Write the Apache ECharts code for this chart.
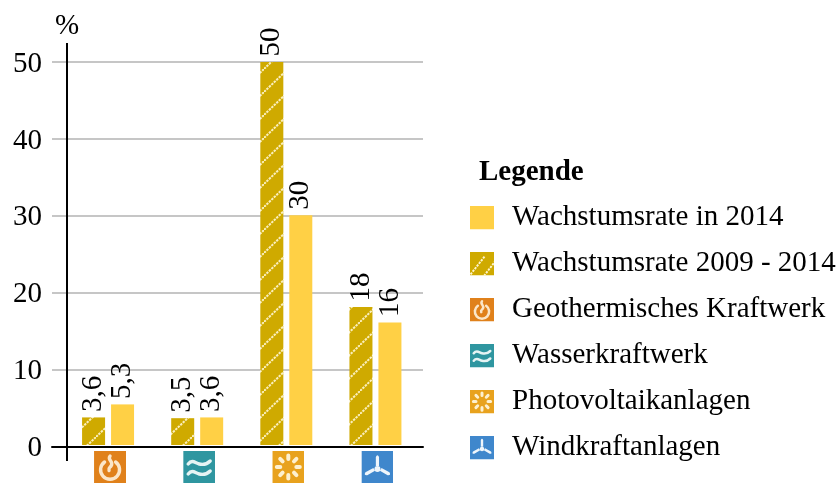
<!DOCTYPE html>
<html>
<head>
<meta charset="utf-8">
<style>
  html, body { margin: 0; background: #fff; }
  #chart { width: 838px; height: 483px; }
</style>
<script src="https://cdn.jsdelivr.net/npm/echarts@6/dist/echarts.min.js"></script>
</head>
<body>
<div id="chart"></div>
<script>
var categories = ["geo", "wasser", "photo", "wind"];
var rate0914 = [3.6, 3.5, 50, 18];
var rate2014 = [5.3, 3.6, 30, 16];
var yTicks = [0, 10, 20, 30, 40, 50];
var name2014 = "Wachstumsrate in 2014";
var name0914 = "Wachstumsrate 2009 - 2014";
var iconNames = ["Geothermisches Kraftwerk", "Wasserkraftwerk", "Photovoltaikanlagen", "Windkraftanlagen"];

var FONT = "Liberation Serif";
var YELLOW = "#ffd045";
var GOLD = "#cfaa00";

// white pictogram on a coloured square
var glyphs = {
  geo: { bg: "#e0811b", svg: '<g fill="none" stroke="#fbe6c8" stroke-width="3.4" stroke-linecap="round"><path d="M10.5 11a9.5 9.5 0 1 0 11 0"/><path d="M16 5c-3 3.5 3 5.5 1.5 9s-3.5 2-2.5 5.5"/></g>' },
  wasser: { bg: "#2f96a0", svg: '<g fill="none" stroke="#e6f4f4" stroke-width="3.4" stroke-linecap="round"><path d="M5 13c4-5 7-1 11 0s7 1 11-3"/><path d="M5 23c4-5 7-1 11 0s7 1 11-3"/></g>' },
  photo: { bg: "#e8a21e", svg: '<g stroke="#fdf0d0" stroke-width="4" stroke-linecap="round"><path d="M16 4.5v3.5M16 24v3.5M4.5 16H8M24 16h3.5M7.9 7.9l2.4 2.4M21.7 21.7l2.4 2.4M7.9 24.1l2.4-2.4M21.7 10.3l2.4-2.4"/></g>' },
  wind: { bg: "#3f87cc", svg: '<g fill="#eef5fb"><circle cx="16" cy="18" r="3"/><path d="M14.4 15V6q1.6-3.5 3.2 0v9zM13.6 19.8l-7.8 4.5q-3.8.4-1.8-3l7.9-4.4zM18.4 19.8l7.8 4.5q3.8.4 1.8-3l-7.9-4.4z"/></g>' }
};

function svgUri(inner) {
  return "data:image/svg+xml;charset=utf-8," + encodeURIComponent(
    '<svg xmlns="http://www.w3.org/2000/svg" width="64" height="64" viewBox="0 0 32 32">' + inner + "</svg>");
}
function iconUri(key) {
  return svgUri('<rect width="32" height="32" fill="' + glyphs[key].bg + '"/>' + glyphs[key].svg);
}

// diagonal dotted stripes for the 2009 - 2014 bars
function hatchTile() {
  var c = document.createElement("canvas");
  c.width = 24; c.height = 23;
  var g = c.getContext("2d");
  g.fillStyle = GOLD;
  g.fillRect(0, 0, 24, 23);
  g.strokeStyle = "rgba(255,246,210,0.9)";
  g.lineWidth = 2;
  g.setLineDash([2.4, 1]);
  g.beginPath();
  g.moveTo(-2.4, 25.3); g.lineTo(26.4, -2.3);
  g.stroke();
  return c;
}
var hatchLegend = svgUri('<rect width="32" height="32" fill="' + GOLD + '"/><path d="M-2 34L20 6M16 36L36 10" stroke="#fff5cd" stroke-width="2.6" stroke-dasharray="3 1.5"/>');
var yellowLegend = svgUri('<rect width="32" height="32" fill="' + YELLOW + '"/>');

var rich = {};
categories.forEach(function (k) {
  rich[k] = { width: 32, height: 32, backgroundColor: { image: iconUri(k) } };
});

function barLabel() {
  return {
    show: true,
    position: "top",
    rotate: 90,
    align: "left",
    verticalAlign: "middle",
    distance: 5.5,
    color: "#000",
    fontFamily: FONT,
    fontSize: 29,
    formatter: function (p) { return String(p.value).replace(".", ","); }
  };
}

var legendData = [
  { name: name2014, icon: "image://" + yellowLegend },
  { name: name0914, icon: "image://" + hatchLegend }
];
var dummySeries = [];
iconNames.forEach(function (n, i) {
  legendData.push({ name: n, icon: "image://" + iconUri(categories[i]) });
  dummySeries.push({ name: n, type: "line", xAxisIndex: 0, yAxisIndex: 0, data: [] });
});

var myChart = echarts.init(document.getElementById("chart"), null, { renderer: "canvas" });
myChart.setOption({
  animation: false,
  backgroundColor: "#fff",
  textStyle: { fontFamily: FONT },
  title: [
    { text: "%", left: 55, top: 12, padding: 0, textStyle: { fontFamily: FONT, fontSize: 29, fontWeight: "normal", color: "#000" } },
    { text: "Legende", left: 479, top: 158, padding: 0, textStyle: { fontFamily: FONT, fontSize: 29, fontWeight: "bold", color: "#000" } }
  ],
  legend: {
    orient: "vertical",
    left: 470,
    top: 203,
    padding: 0,
    itemWidth: 24,
    itemHeight: 24,
    itemGap: 17,
    selectedMode: false,
    data: legendData,
    textStyle: { fontFamily: FONT, fontSize: 29, color: "#000", padding: [0, 0, 0, 13] }
  },
  grid: [
    { left: 52, width: 371, top: 62, height: 384.5 },
    { left: 63.5, width: 356.5, top: 62, height: 384.5 }
  ],
  xAxis: [
    {
      type: "category", gridIndex: 0, data: categories,
      axisLine: { show: true, lineStyle: { color: "#000", width: 2 } },
      axisTick: { show: false }, axisLabel: { show: false }, splitLine: { show: false }, z: 5
    },
    {
      type: "category", gridIndex: 1, data: categories,
      axisLine: { show: false }, axisTick: { show: false },
      axisLabel: {
        show: true, interval: 0, margin: 6,
        formatter: function (v) { return "{" + v + "|}"; },
        rich: rich, padding: [0, 0, 0, 4]
      }
    }
  ],
  yAxis: [
    {
      type: "value", gridIndex: 0, min: yTicks[0], max: yTicks[yTicks.length - 1], interval: 10,
      axisLine: { show: false }, axisTick: { show: false },
      axisLabel: {
        margin: 10,
        formatter: function (v) { return "{t|" + v + "}"; },
        rich: { t: { color: "#000", fontFamily: FONT, fontSize: 29, padding: [4, 0, 0, 0] } }
      },
      splitLine: { show: true, lineStyle: { color: "#c6c6c6", width: 2 } }
    },
    {
      type: "value", gridIndex: 1, min: yTicks[0], max: yTicks[yTicks.length - 1], interval: 10,
      axisLine: { show: false }, axisTick: { show: false }, axisLabel: { show: false }, splitLine: { show: false }
    }
  ],
  series: [
    {
      name: name0914, type: "bar", xAxisIndex: 1, yAxisIndex: 1, data: rate0914,
      barWidth: 23, barGap: "26%",
      itemStyle: { color: { image: hatchTile(), repeat: "repeat" } },
      label: barLabel()
    },
    {
      name: name2014, type: "bar", xAxisIndex: 1, yAxisIndex: 1, data: rate2014,
      barWidth: 23, barGap: "26%",
      itemStyle: { color: YELLOW },
      label: barLabel()
    }
  ].concat(dummySeries),
  graphic: [
    { type: "line", shape: { x1: 67, y1: 43, x2: 67, y2: 461 }, style: { stroke: "#000", lineWidth: 2 }, z: 10 }
  ]
});
</script>
</body>
</html>
